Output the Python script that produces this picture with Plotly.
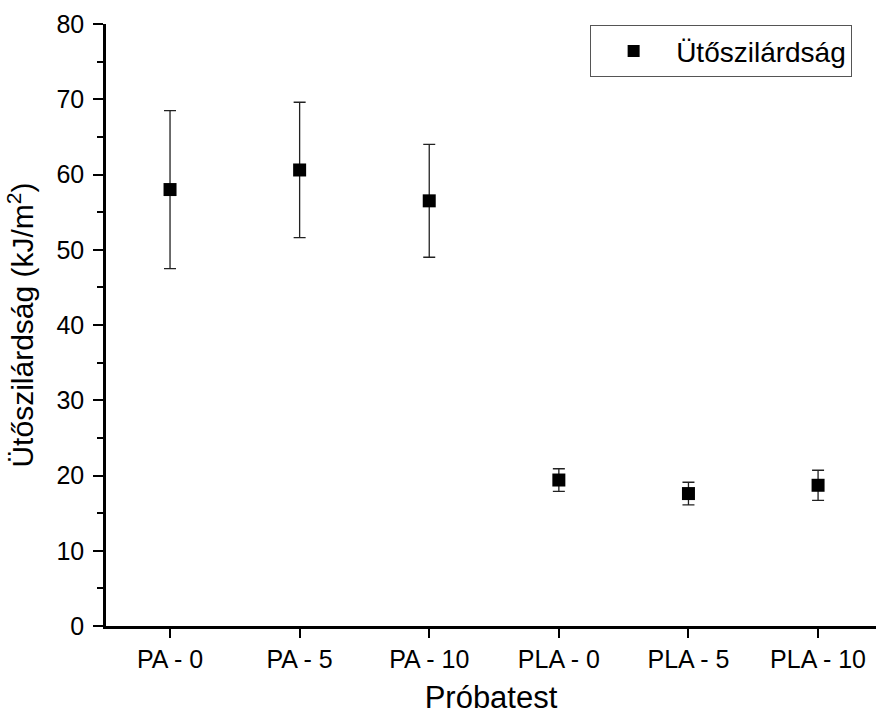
import plotly.graph_objects as go

categories = ["PA - 0", "PA - 5", "PA - 10", "PLA - 0", "PLA - 5", "PLA - 10"]
means = [58.0, 60.6, 56.5, 19.4, 17.6, 18.7]
errors = [10.5, 9.0, 7.5, 1.5, 1.5, 2.0]
series_name = "Ütőszilárdság"

FONT = "Liberation Sans, Arial, sans-serif"

fig = go.Figure()
fig.add_trace(go.Scatter(
    x=categories, y=means, mode="markers", name=series_name,
    marker=dict(symbol="square", size=13, color="black"),
    error_y=dict(type="data", array=errors, visible=True,
                 color="#222222", thickness=1.3, width=6),
    showlegend=True,
))

fig.update_layout(
    width=876, height=715,
    margin=dict(l=106, r=0, t=24, b=89),
    paper_bgcolor="white", plot_bgcolor="white",
    font=dict(family=FONT, color="black", size=25),
    legend=dict(
        x=0.969, y=0.998, xanchor="right", yanchor="top",
        bordercolor="#555555", borderwidth=1, bgcolor="white",
        font=dict(size=28, family=FONT),
        itemwidth=75,
        itemsizing="constant",
    ),
    xaxis=dict(
        type="category", range=[-0.494, 5.447],
        showline=True, linecolor="black", linewidth=2.5,
        ticks="outside", ticklen=9, tickwidth=2, tickcolor="black",
        showgrid=False, zeroline=False,
        tickfont=dict(size=25),
        title=dict(text="Próbatest", font=dict(size=31), standoff=16),
    ),
    yaxis=dict(
        range=[0, 80], dtick=10, tick0=0,
        showline=True, linecolor="black", linewidth=2.5,
        ticks="outside", ticklen=10, tickwidth=2, tickcolor="black",
        ticklabelstandoff=4,
        minor=dict(dtick=5, ticks="outside", ticklen=6, tickwidth=2, tickcolor="black"),
        showgrid=False, zeroline=False,
        tickfont=dict(size=25),
        title=dict(text="Ütőszilárdság (kJ/m<sup>2</sup>)", font=dict(size=30), standoff=14),
    ),
)

fig.write_html("out.html")
